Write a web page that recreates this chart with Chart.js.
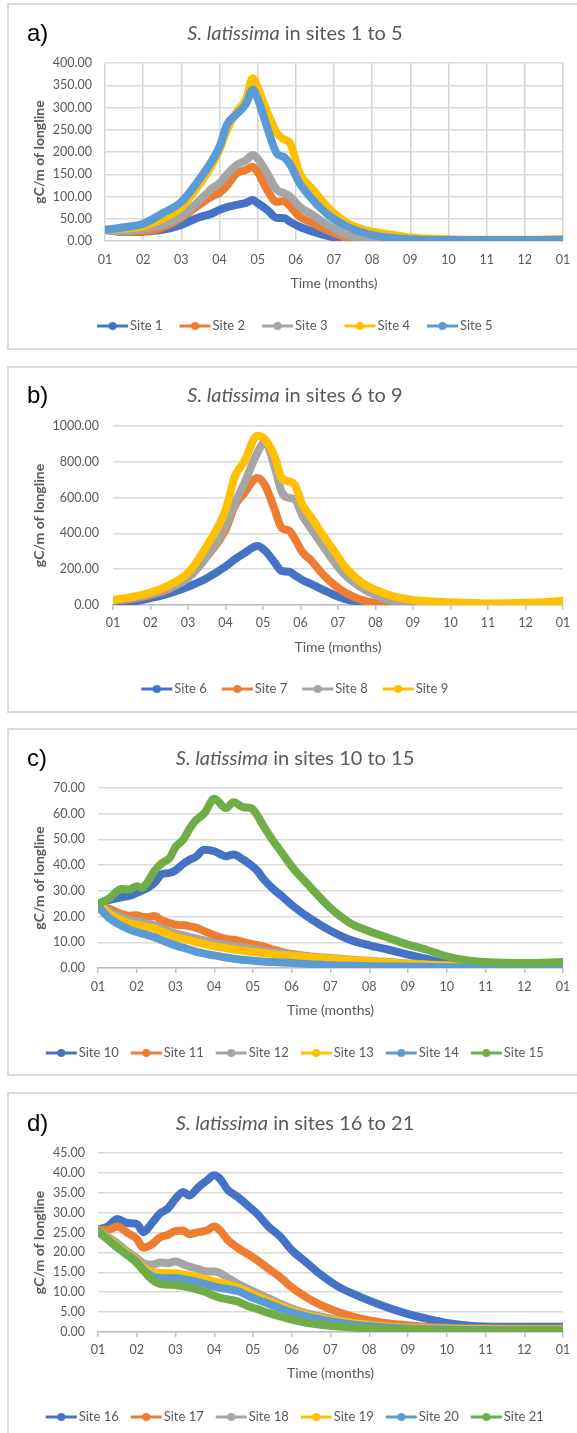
<!DOCTYPE html>
<html>
<head>
<meta charset="utf-8">
<script src="https://cdn.jsdelivr.net/npm/chart.js@4.4.1/dist/chart.umd.min.js"></script>
<style>
  html, body { margin: 0; padding: 0; background: #fff; }
  body { width: 577px; height: 1433px; position: relative; overflow: hidden; font-family: Lato, "Open Sans", sans-serif; }
  .box { position: absolute; left: 7px; width: 620px; border: 2px solid #d9d9d9; box-sizing: border-box; }
  .wrap { position: absolute; left: 0; width: 594px; }
  .title { position: absolute; left: 0; width: 590px; text-align: center; color: #595959; font-size: 20px; line-height: 24px; white-space: nowrap; }
  .tag { position: absolute; left: 27px; font-family: "Liberation Sans", Arial, sans-serif; font-size: 24px; line-height: 24px; color: #000; }
</style>
</head>
<body>
<div class="box" style="top:3px;height:347px"></div>
<div class="box" style="top:366px;height:347px"></div>
<div class="box" style="top:728px;height:348px"></div>
<div class="box" style="top:1092px;height:360px"></div>

<div class="wrap" style="top:3px;height:346px"><canvas id="chartA"></canvas></div>
<div class="wrap" style="top:367px;height:345px"><canvas id="chartB"></canvas></div>
<div class="wrap" style="top:729px;height:346px"><canvas id="chartC"></canvas></div>
<div class="wrap" style="top:1093px;height:346px"><canvas id="chartD"></canvas></div>

<div class="tag" style="top:21px">a)</div>
<div class="title" style="top:20px"><i>S. latissima</i> in sites 1 to 5</div>
<div class="tag" style="top:383px">b)</div>
<div class="title" style="top:382px"><i>S. latissima</i> in sites 6 to 9</div>
<div class="tag" style="top:746px">c)</div>
<div class="title" style="top:745px"><i>S. latissima</i> in sites 10 to 15</div>
<div class="tag" style="top:1111px">d)</div>
<div class="title" style="top:1110px"><i>S. latissima</i> in sites 16 to 21</div>

<script>
// tick labels for the month axis (Jan ... Dec, Jan)
const monthLabels = ["01", "02", "03", "04", "05", "06", "07", "08", "09", "10", "11", "12", "01"];
const siteColors = ["#4472C4", "#ED7D31", "#A5A5A5", "#FFC000", "#5B9BD5", "#70AD47"];

// a) sites 1 to 5  (x = months since 1 Jan)
const monthsA = [0, 0.5, 1, 1.5, 2, 2.4, 2.8, 3, 3.2, 3.45, 3.7, 3.87, 4, 4.25, 4.5, 4.7, 4.85, 5.1, 5.45, 5.9, 6.35, 6.8, 7.2, 7.6, 8, 9, 10, 11, 12];
const site1 = [25, 20, 21, 25, 36, 51, 62, 70, 76, 81, 86, 92, 85, 70, 52, 51, 43, 32, 21, 10, 2, 0, 0, 0, 0, 0, 0, 0, 0];
const site2 = [25, 21, 22, 30, 52, 77, 100, 108, 125, 152, 160, 167, 155, 115, 88, 90, 78, 55, 40, 21, 7, 2, 1, 0, 0, 0, 0, 0, 0];
const site3 = [25, 22, 27, 36, 55, 85, 118, 130, 150, 171, 182, 193, 185, 152, 115, 107, 100, 77, 58, 32, 13, 7, 3, 1, 0.5, 0, 0, 0, 0];
const site4 = [25, 28, 33, 50, 76, 118, 170, 205, 250, 290, 320, 366, 345, 290, 243, 228, 220, 152, 115, 70, 40, 25, 18, 13, 8, 4, 3, 3, 5];
const site5 = [25, 31, 39, 62, 88, 130, 180, 212, 262, 285, 309, 340, 320, 255, 197, 188, 172, 130, 92, 55, 32, 18, 10, 6, 4, 2, 2, 2, 2];
const namesA = ["Site 1", "Site 2", "Site 3", "Site 4", "Site 5"];

// b) sites 6 to 9
const monthsB = [0, 0.5, 1, 1.5, 2, 2.5, 3, 3.25, 3.5, 3.85, 4.05, 4.3, 4.5, 4.7, 4.85, 5.05, 5.3, 5.6, 5.9, 6.2, 6.6, 7, 7.5, 8, 9, 10, 11, 12];
const site6 = [25, 20, 38, 65, 102, 150, 215, 255, 290, 330, 305, 240, 190, 186, 165, 140, 115, 85, 56, 33, 15, 5, 1, 0, 0, 0, 0, 0];
const site7 = [25, 35, 55, 90, 160, 270, 420, 555, 625, 710, 670, 540, 430, 415, 370, 295, 245, 170, 112, 68, 30, 12, 5, 3, 2, 1, 1, 1];
const site8 = [25, 38, 60, 95, 150, 270, 440, 570, 680, 850, 910, 780, 630, 598, 590, 500, 420, 330, 240, 165, 100, 55, 22, 10, 4, 2, 2, 3];
const site9 = [28, 45, 70, 112, 180, 330, 530, 720, 800, 945, 925, 835, 710, 690, 670, 560, 485, 390, 300, 210, 130, 84, 47, 28, 15, 9, 12, 22];
const namesB = ["Site 6", "Site 7", "Site 8", "Site 9"];

// c) sites 10 to 15
const monthsC = [0, 0.3, 0.6, 0.8, 1, 1.12, 1.26, 1.45, 1.65, 1.85, 2, 2.2, 2.35, 2.5, 2.75, 3, 3.3, 3.5, 3.75, 3.95, 4.1, 4.25, 4.5, 4.75, 5, 5.5, 6, 6.5, 7, 7.5, 8, 8.5, 9, 9.5, 10, 11, 12];
const site10 = [24.9, 26.5, 27.5, 28, 29.2, 30, 31, 33, 36.5, 37, 38, 40.5, 42, 43, 46, 45.4, 43.5, 44.1, 42.1, 40, 38, 35, 31, 27.9, 24.5, 19, 14.5, 11, 8.8, 7.1, 5.2, 3.5, 1.8, 1, 0.7, 0.6, 0.6];
const site11 = [24.9, 23, 21, 20.3, 20.5, 20, 19.7, 20.2, 18.5, 17.5, 16.8, 16.6, 16.3, 15.8, 14.3, 12.7, 11.3, 11, 10.1, 9.4, 8.9, 8.4, 7.3, 6.3, 5.5, 4.1, 3.2, 2.7, 2.3, 1.9, 1.6, 1.3, 1, 0.8, 0.6, 0.6, 0.6];
const site12 = [24.9, 22, 19.8, 18.8, 18.3, 18, 17.4, 16.6, 15.5, 14.2, 13.4, 12.8, 12.1, 11.6, 10.7, 9.7, 9, 8.5, 8, 7.5, 7.1, 6.7, 6.2, 5.7, 5.3, 4.5, 3.9, 3.3, 2.8, 2.3, 1.8, 1.4, 1, 0.8, 0.6, 0.5, 0.5];
const site13 = [24.9, 21, 18.6, 17.4, 16.8, 16.5, 16, 15.4, 14.2, 13, 12, 11.3, 10.8, 10.2, 9.3, 8.4, 7.7, 7.2, 6.7, 6.3, 6.1, 5.8, 5.4, 5.1, 4.8, 4.2, 3.6, 3.1, 2.6, 2.1, 1.7, 1.3, 1, 0.8, 0.6, 0.5, 0.5];
const site14 = [24, 19.3, 16.5, 15, 14, 13.5, 12.9, 12, 10.8, 9.6, 8.8, 7.9, 7.2, 6.5, 5.6, 4.9, 4.1, 3.6, 3.2, 2.9, 2.7, 2.5, 2.3, 2.1, 1.9, 1.5, 1.1, 0.9, 0.7, 0.6, 0.5, 0.4, 0.3, 0.3, 0.3, 0.3, 0.3];
const site15 = [24.9, 27.2, 30.7, 30.5, 31.8, 31.1, 33, 37.6, 40.8, 42.8, 47, 49.9, 53.8, 57, 60.3, 65.8, 62.2, 64.5, 62.5, 62.2, 59.6, 55.7, 49.9, 44.7, 39.5, 31.1, 23.3, 17.5, 14.3, 11.7, 9.1, 7, 4.5, 3, 2.3, 1.9, 2.3];
const namesC = ["Site 10", "Site 11", "Site 12", "Site 13", "Site 14", "Site 15"];

// d) sites 16 to 21
const monthsD = [0, 0.25, 0.5, 0.75, 1, 1.17, 1.4, 1.6, 1.8, 2, 2.2, 2.35, 2.6, 2.8, 3, 3.15, 3.35, 3.6, 3.9, 4.1, 4.4, 4.7, 5, 5.35, 5.7, 6.2, 6.75, 7.4, 7.9, 8.5, 9, 9.6, 10, 11, 12];
const site16 = [25.8, 26.5, 28.4, 27.4, 27.2, 25.1, 27.5, 29.8, 31, 33.5, 35.2, 34.3, 36.5, 38, 39.4, 38.5, 35.7, 34, 31.5, 29.8, 26.5, 24, 20.6, 17.7, 14.8, 11.4, 8.9, 6.4, 4.8, 3.3, 2.3, 1.6, 1.4, 1.3, 1.3];
const site17 = [25.8, 25.7, 26.5, 25, 23.4, 21.2, 22.1, 23.8, 24.4, 25.4, 25.5, 24.6, 25.1, 25.5, 26.5, 25.5, 23.1, 21.2, 19.4, 18.1, 15.9, 13.8, 11.2, 8.9, 7, 5, 3.4, 2.3, 1.8, 1.3, 1.1, 0.9, 0.9, 0.8, 0.8];
const site18 = [25.5, 24, 22.3, 20.3, 18.6, 17.3, 16.9, 17.5, 17.3, 17.7, 17, 16.5, 15.8, 15.2, 15.2, 14.8, 13.6, 12.2, 10.7, 9.8, 8.5, 7.1, 5.9, 4.8, 4, 3, 2, 1.4, 1.2, 1, 0.9, 0.8, 0.8, 0.7, 0.7];
const site19 = [25.5, 23.6, 21.6, 19.8, 18.1, 16.2, 15, 14.8, 14.9, 14.8, 14.5, 14.2, 13.7, 13.2, 12.7, 12.4, 12, 11.2, 9.9, 9, 7.8, 6.6, 5.4, 4.4, 3.6, 2.8, 2, 1.4, 1.1, 0.9, 0.8, 0.7, 0.7, 0.6, 0.6];
const site20 = [25.4, 23.3, 21.2, 19.4, 17.7, 15.6, 14, 13.6, 13.5, 13.5, 13.3, 13, 12.5, 12, 11.4, 11.1, 10.8, 10.3, 9, 8.2, 7.1, 6, 4.9, 4, 3.2, 2.4, 1.7, 1.2, 0.9, 0.7, 0.6, 0.5, 0.5, 0.4, 0.4];
const site21 = [25.2, 23.3, 21.4, 19.4, 17.4, 15.5, 13.1, 12.1, 11.9, 11.8, 11.5, 11.2, 10.6, 10, 9.1, 8.6, 8.2, 7.7, 6.4, 5.8, 4.8, 3.9, 3.1, 2.4, 1.9, 1.4, 1, 0.7, 0.6, 0.5, 0.4, 0.4, 0.4, 0.4, 0.4];
const namesD = ["Site 16", "Site 17", "Site 18", "Site 19", "Site 20", "Site 21"];

Chart.defaults.font.family = "Lato, 'Open Sans', sans-serif";
Chart.defaults.color = "#595959";

// line with a dot in the middle, like the Excel legend key
function legendMark(color) {
  const c = document.createElement("canvas");
  c.width = 33;
  c.height = 10;
  const g = c.getContext("2d");
  g.strokeStyle = color;
  g.lineWidth = 3;
  g.beginPath();
  g.moveTo(1, 5);
  g.lineTo(32, 5);
  g.stroke();
  g.fillStyle = color;
  g.beginPath();
  g.arc(16.5, 5, 4, 0, Math.PI * 2);
  g.fill();
  return c;
}

function drawPanel(id, months, series, names, yMax, yStep, lay) {
  const datasets = series.map((vals, i) => ({
    label: names[i],
    data: months.map((m, j) => ({ x: m, y: vals[j] })),
    borderColor: siteColors[i],
    backgroundColor: siteColors[i],
    borderWidth: 8,
    pointRadius: 0,
    pointStyle: legendMark(siteColors[i]),
    cubicInterpolationMode: "monotone",
    borderCapStyle: "round",
    borderJoinStyle: "round",
    order: series.length - i,
  }));

  const axisColor = lay.xGrid ? "#d4d4d4" : "#bfbfbf";

  new Chart(document.getElementById(id), {
    type: "line",
    data: { datasets },
    options: {
      animation: false,
      responsive: true,
      maintainAspectRatio: false,
      devicePixelRatio: 1,
      layout: { padding: { top: lay.top, bottom: lay.bottom, left: 0, right: 0 } },
      plugins: {
        tooltip: { enabled: false },
        legend: {
          position: "bottom",
          labels: {
            usePointStyle: true,
            pointStyleWidth: 22,
            color: "#595959",
            font: { size: 13 },
            padding: lay.legendPad,
            sort: (a, b) => a.datasetIndex - b.datasetIndex,
          },
        },
      },
      scales: {
        x: {
          type: "linear",
          min: 0,
          max: 12,
          ticks: {
            stepSize: 1,
            autoSkip: false,
            maxRotation: 0,
            color: "#595959",
            font: { size: 12.5 },
            padding: lay.xPad,
            callback: (v) => monthLabels[v],
          },
          grid: {
            display: true,
            drawOnChartArea: lay.xGrid,
            drawTicks: !lay.xGrid,
            tickLength: 5,
            lineWidth: 1.5,
            color: axisColor,
          },
          border: { display: true, color: axisColor, width: 1.5 },
          title: {
            display: true,
            text: "Time (months)",
            color: "#595959",
            font: { size: 14 },
            padding: { top: 0, bottom: lay.xTitlePad },
          },
          afterFit: (s) => { s.height = lay.xh; },
        },
        y: {
          min: 0,
          max: yMax,
          ticks: {
            stepSize: yStep,
            color: "#595959",
            font: { size: 12.5 },
            padding: lay.yPad,
            callback: (v) => v.toFixed(2),
          },
          grid: { color: "#d9d9d9", lineWidth: 1.5, drawTicks: false },
          border: { display: false },
          title: {
            display: true,
            text: "gC/m of longline",
            color: "#595959",
            font: { size: 14, weight: "bold" },
            padding: { top: 30.6, bottom: 0 },
          },
          afterFit: (s) => { s.width = lay.yw; },
        },
        // empty right-hand axis: keeps the plot narrower than the legend row
        yRight: {
          axis: "y",
          position: "right",
          grid: { display: false },
          border: { display: false },
          ticks: { display: false },
          afterFit: (s) => { s.width = 31; },
        },
      },
    },
  });
}

drawPanel("chartA", monthsA, [site1, site2, site3, site4, site5], namesA, 400, 50,
  { top: 60, bottom: 6.5, legendPad: 21.5, xh: 57, xPad: 11.8, xTitlePad: 6.6, yw: 105, yPad: 13, xGrid: true });
drawPanel("chartB", monthsB, [site6, site7, site8, site9], namesB, 1000, 200,
  { top: 59, bottom: 6.5, legendPad: 19.5, xh: 58, xPad: 5.8, xTitlePad: 7.6, yw: 113, yPad: 14, xGrid: false });
drawPanel("chartC", monthsC, [site10, site11, site12, site13, site14, site15], namesC, 70, 10,
  { top: 59, bottom: 5.5, legendPad: 16.5, xh: 62, xPad: 6.8, xTitlePad: 11.6, yw: 98, yPad: 13, xGrid: false });
drawPanel("chartD", monthsD, [site16, site17, site18, site19, site20, site21], namesD, 45, 5,
  { top: 60, bottom: 5.5, legendPad: 16.5, xh: 62, xPad: 5.8, xTitlePad: 12.6, yw: 98, yPad: 13, xGrid: false });
</script>
</body>
</html>
